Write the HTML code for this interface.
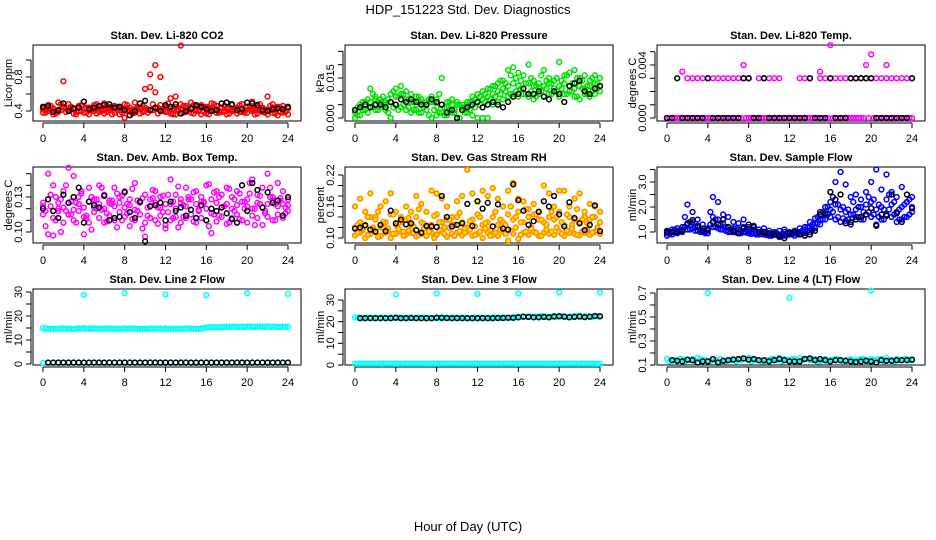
<!DOCTYPE html>
<html><head><meta charset="utf-8">
<style>
html,body{margin:0;padding:0;background:#fff;}
svg{display:block;font-family:"Liberation Sans",Arial,sans-serif;}
.t{font-size:11px;font-weight:bold;text-anchor:middle;}
.tk{font-size:11px;text-anchor:middle;}
</style></head>
<body>
<svg id="chart" width="936" height="540" viewBox="0 0 936 540" xmlns="http://www.w3.org/2000/svg">
<text x="468" y="14" font-size="13" text-anchor="middle">HDP_151223  Std. Dev. Diagnostics</text>
<text x="468" y="531" font-size="13" text-anchor="middle">Hour of Day (UTC)</text>
</svg>
<script>
const hours=[0,0.5,1,1.5,2,2.5,3,3.5,4,4.5,5,5.5,6,6.5,7,7.5,8,8.5,9,9.5,10,10.5,11,11.5,12,12.5,13,13.5,14,14.5,15,15.5,16,16.5,17,17.5,18,18.5,19,19.5,20,20.5,21,21.5,22,22.5,23,23.5,24];
const hoursQ=[0.25,0.75,1.25,1.75,2.25,2.75,3.25,3.75,4.25,4.75,5.25,5.75,6.25,6.75,7.25,7.75,8.25,8.75,9.25,9.75,10.25,10.75,11.25,11.75,12.25,12.75,13.25,13.75,14.25,14.75,15.25,15.75,16.25,16.75,17.25,17.75,18.25,18.75,19.25,19.75,20.25,20.75,21.25,21.75,22.25,22.75,23.25,23.75];
const xTicks=[0,4,8,12,16,20,24];

const co2A=[0.44,0.47,0.42,0.50,0.45,0.48,0.43,0.46,0.51,0.44,0.47,0.42,0.49,0.45,0.46,0.43,0.48,0.41,0.50,0.44,0.66,0.68,0.62,0.47,0.45,0.55,0.57,0.48,0.46,0.50,0.45,0.47,0.43,0.49,0.46,0.44,0.50,0.47,0.43,0.48,0.45,0.51,0.46,0.44,0.57,0.48,0.45,0.46,0.44];
const co2B=[0.38,0.40,0.36,0.39,0.75,0.41,0.37,0.40,0.38,0.36,0.40,0.39,0.37,0.41,0.38,0.36,0.32,0.40,0.38,0.37,0.40,0.41,0.94,0.80,0.39,0.37,0.36,1.17,0.39,0.38,0.40,0.36,0.37,0.41,0.38,0.39,0.36,0.40,0.37,0.39,0.38,0.40,0.37,0.39,0.36,0.38,0.35,0.38,0.36];
const co2C=[0.42,0.44,0.43,0.41,0.45,0.43,0.42,0.44,0.43,0.42,0.44,0.45,0.42,0.43,0.44,0.42,0.43,0.44,0.42,0.43,0.44,0.83,0.43,0.42,0.44,0.43,0.45,0.42,0.44,0.43,0.42,0.44,0.45,0.43,0.42,0.44,0.43,0.42,0.44,0.43,0.45,0.42,0.44,0.43,0.42,0.44,0.43,0.42,0.43];
const co2D=[0.41,0.46,0.40,0.48,0.43,0.45,0.39,0.47,0.44,0.42,0.48,0.40,0.46,0.43,0.45,0.41,0.47,0.39,0.44,0.46,0.42,0.48,0.44,0.41,0.49,0.43,0.40,0.46,0.42,0.47,0.41,0.45,0.43,0.48,0.40,0.46,0.44,0.42,0.47,0.41,0.45,0.43,0.48,0.40,0.46,0.42,0.44,0.39];
const co2E=[0.38,0.42,0.37,0.41,0.39,0.43,0.36,0.40,0.38,0.41,0.37,0.42,0.39,0.36,0.41,0.38,0.40,0.37,0.42,0.39,0.38,0.41,0.37,0.40,0.39,0.36,0.42,0.38,0.41,0.37,0.40,0.39,0.36,0.42,0.38,0.40,0.37,0.41,0.39,0.38,0.42,0.36,0.40,0.38,0.41,0.37,0.39,0.40];
const co2K=[0.45,0.46,0.39,0.41,0.49,0.40,0.43,0.44,0.51,0.42,0.44,0.46,0.47,0.48,0.44,0.45,0.41,0.35,0.40,0.49,0.52,0.41,0.44,0.40,0.47,0.45,0.48,0.37,0.40,0.43,0.47,0.45,0.42,0.40,0.41,0.49,0.50,0.48,0.41,0.42,0.50,0.49,0.47,0.41,0.40,0.42,0.43,0.42,0.45];

const presA=[0.003,0.005,0.006,0.011,0.008,0.007,0.006,0.009,0.011,0.012,0.010,0.009,0.008,0.007,0.006,0.008,0.007,0.015,0.006,0.007,0.006,0.005,0.006,0.008,0.009,0.010,0.011,0.012,0.013,0.014,0.018,0.019,0.017,0.016,0.020,0.014,0.013,0.018,0.015,0.014,0.021,0.016,0.017,0.018,0.015,0.016,0.014,0.016,0.015];
const presB=[0.002,0.004,0.005,0.006,0.007,0.006,0.005,0.006,0.008,0.009,0.007,0.006,0.005,0.006,0.005,0.006,0.004,0.005,0.004,0.005,0.005,0.004,0.005,0.006,0.006,0.007,0.008,0.009,0.010,0.011,0.012,0.013,0.012,0.011,0.013,0.012,0.011,0.012,0.013,0.011,0.012,0.013,0.012,0.011,0.012,0.011,0.012,0.013,0.012];
const presC=[0.000,0.001,0.003,0.004,0.003,0.004,0.003,0.000,0.005,0.004,0.003,0.002,0.003,0.002,0.003,0.000,0.001,0.002,0.001,0.002,0.000,0.003,0.002,0.001,0.000,0.000,0.000,0.005,0.006,0.007,0.008,0.009,0.008,0.009,0.008,0.007,0.009,0.008,0.009,0.010,0.008,0.009,0.010,0.008,0.007,0.009,0.008,0.009,0.010];
const presD=[0.004,0.006,0.007,0.009,0.006,0.008,0.007,0.010,0.008,0.009,0.007,0.006,0.008,0.005,0.007,0.006,0.009,0.004,0.006,0.003,0.005,0.004,0.006,0.007,0.008,0.009,0.011,0.012,0.014,0.013,0.016,0.015,0.014,0.013,0.015,0.012,0.016,0.014,0.013,0.015,0.014,0.016,0.013,0.015,0.014,0.012,0.015,0.013];
const presE=[0.001,0.003,0.002,0.004,0.003,0.005,0.002,0.004,0.003,0.005,0.004,0.003,0.002,0.004,0.001,0.003,0.002,0.001,0.003,0.002,0.000,0.002,0.003,0.004,0.005,0.006,0.007,0.008,0.009,0.010,0.009,0.010,0.011,0.009,0.010,0.008,0.010,0.011,0.009,0.010,0.011,0.009,0.010,0.008,0.011,0.009,0.010,0.011];
const presK=[0.003,0.004,0.005,0.004,0.005,0.005,0.004,0.006,0.005,0.007,0.006,0.007,0.006,0.005,0.005,0.007,0.006,0.005,0.002,0.003,0.000,0.003,0.004,0.005,0.006,0.004,0.005,0.006,0.005,0.004,0.006,0.008,0.009,0.011,0.009,0.009,0.010,0.008,0.007,0.010,0.009,0.006,0.012,0.013,0.014,0.010,0.009,0.011,0.012];

const tempA=[0,0,0,0,0.003,0.003,0.003,0.003,0.003,0.003,0.003,0.003,0.003,0.003,0.003,0.003,0.003,0,0.003,0.003,0.003,0.003,0.003,0,0,0,0.003,0.003,0.003,0,0.003,0.003,0.003,0.003,0.003,0.003,0.003,0.003,0.003,0.003,0.003,0.003,0.003,0.003,0.003,0.003,0.003,0.003,0.003];
const tempB=[0,0,0,0.0035,0,0,0,0,0,0,0,0,0,0,0,0.004,0,0,0,0,0,0,0,0,0,0,0,0,0,0,0.0035,0,0.0055,0,0,0,0,0,0,0.004,0.0048,0,0,0.004,0,0,0,0,0];
const tempZ=[0,0,0,0,0,0,0,0,0,0,0,0,0,0,0,0,0,0,0,0,0,0,0,0,0,0,0,0,0,0,0,0,0,0,0,0,0,0,0,0,0,0,0,0,0,0,0,0];
const tempK=[0,0,0.003,0,0,0,0,0,0.003,0,0,0,0,0,0,0.003,0.003,0,0,0.003,0,0,0,0,0,0,0,0,0.003,0,0,0,0.003,0,0,0,0.003,0.003,0.003,0.003,0.003,0,0,0,0,0,0,0,0.003];

const ambA=[0.125,0.150,0.140,0.118,0.135,0.125,0.148,0.130,0.121,0.138,0.128,0.140,0.132,0.125,0.138,0.130,0.135,0.128,0.142,0.125,0.132,0.128,0.135,0.130,0.124,0.145,0.132,0.128,0.138,0.128,0.135,0.130,0.140,0.128,0.135,0.132,0.138,0.130,0.135,0.140,0.128,0.145,0.132,0.138,0.150,0.130,0.142,0.135,0.128];
const ambB=[0.115,0.098,0.112,0.120,0.108,0.115,0.110,0.118,0.113,0.108,0.117,0.112,0.108,0.114,0.110,0.117,0.113,0.105,0.110,0.115,0.108,0.112,0.110,0.114,0.106,0.110,0.113,0.108,0.112,0.115,0.108,0.112,0.110,0.116,0.109,0.113,0.107,0.112,0.115,0.110,0.108,0.114,0.112,0.106,0.113,0.110,0.115,0.112,0.118];
const ambC=[0.122,0.128,0.097,0.125,0.121,0.155,0.119,0.124,0.098,0.126,0.121,0.124,0.120,0.127,0.122,0.125,0.121,0.123,0.119,0.126,0.096,0.122,0.125,0.121,0.103,0.124,0.120,0.125,0.122,0.119,0.124,0.126,0.120,0.099,0.125,0.121,0.124,0.120,0.123,0.126,0.122,0.120,0.125,0.121,0.124,0.127,0.122,0.124,0.123];
const ambD=[0.118,0.132,0.110,0.128,0.140,0.115,0.125,0.135,0.112,0.130,0.120,0.138,0.116,0.127,0.133,0.110,0.124,0.137,0.118,0.129,0.114,0.136,0.121,0.131,0.117,0.126,0.139,0.113,0.128,0.134,0.119,0.125,0.141,0.115,0.130,0.122,0.137,0.118,0.133,0.126,0.142,0.120,0.131,0.116,0.138,0.124,0.129,0.121];
const ambE=[0.105,0.122,0.130,0.100,0.118,0.126,0.108,0.133,0.114,0.102,0.128,0.119,0.109,0.124,0.104,0.131,0.116,0.111,0.127,0.103,0.121,0.129,0.107,0.117,0.132,0.112,0.104,0.123,0.130,0.109,0.118,0.126,0.105,0.134,0.114,0.122,0.108,0.128,0.111,0.120,0.133,0.106,0.124,0.118,0.130,0.110,0.127,0.116];
const ambK=[0.120,0.128,0.118,0.112,0.132,0.125,0.130,0.138,0.108,0.126,0.123,0.121,0.131,0.110,0.112,0.113,0.134,0.117,0.112,0.126,0.092,0.122,0.123,0.125,0.110,0.126,0.118,0.121,0.114,0.119,0.112,0.123,0.110,0.120,0.118,0.121,0.116,0.111,0.108,0.140,0.118,0.142,0.136,0.121,0.134,0.125,0.127,0.114,0.130];

const rhA=[0.160,0.175,0.150,0.185,0.140,0.160,0.170,0.185,0.150,0.140,0.160,0.150,0.180,0.165,0.150,0.190,0.185,0.175,0.160,0.140,0.170,0.180,0.230,0.185,0.170,0.190,0.180,0.195,0.175,0.160,0.190,0.205,0.175,0.170,0.155,0.165,0.150,0.200,0.185,0.160,0.190,0.190,0.160,0.175,0.185,0.150,0.165,0.160,0.150];
const rhB=[0.120,0.130,0.125,0.140,0.135,0.120,0.130,0.145,0.125,0.130,0.135,0.125,0.140,0.130,0.120,0.125,0.145,0.130,0.135,0.125,0.140,0.130,0.120,0.135,0.145,0.125,0.130,0.140,0.125,0.130,0.145,0.135,0.150,0.130,0.140,0.145,0.135,0.130,0.140,0.135,0.150,0.125,0.140,0.135,0.130,0.140,0.135,0.140,0.130];
const rhC=[0.105,0.110,0.100,0.108,0.112,0.104,0.110,0.100,0.108,0.112,0.106,0.110,0.103,0.108,0.104,0.110,0.106,0.112,0.102,0.108,0.110,0.105,0.112,0.104,0.108,0.100,0.110,0.106,0.104,0.112,0.095,0.108,0.098,0.110,0.106,0.112,0.104,0.110,0.108,0.106,0.112,0.104,0.110,0.108,0.105,0.110,0.106,0.112,0.108];
const rhD=[0.125,0.115,0.140,0.120,0.150,0.130,0.118,0.145,0.128,0.112,0.138,0.122,0.155,0.127,0.116,0.142,0.130,0.120,0.135,0.125,0.148,0.118,0.132,0.122,0.140,0.128,0.115,0.150,0.135,0.125,0.160,0.140,0.130,0.155,0.120,0.145,0.135,0.125,0.150,0.140,0.130,0.145,0.125,0.155,0.135,0.128,0.140,0.120];
const rhE=[0.110,0.118,0.106,0.115,0.102,0.120,0.112,0.108,0.117,0.104,0.114,0.110,0.106,0.118,0.112,0.100,0.115,0.108,0.119,0.104,0.113,0.110,0.116,0.106,0.112,0.118,0.104,0.110,0.116,0.108,0.114,0.120,0.106,0.112,0.118,0.110,0.104,0.116,0.112,0.120,0.108,0.114,0.118,0.106,0.112,0.116,0.110,0.114];
const rhK=[0.118,0.120,0.124,0.116,0.112,0.125,0.113,0.152,0.128,0.135,0.126,0.128,0.115,0.110,0.123,0.122,0.121,0.180,0.140,0.122,0.125,0.128,0.165,0.123,0.170,0.156,0.167,0.122,0.164,0.118,0.116,0.202,0.172,0.152,0.125,0.132,0.150,0.170,0.160,0.180,0.145,0.122,0.168,0.138,0.128,0.115,0.125,0.162,0.113];

const flowA=[1.05,1.10,1.15,1.20,2.10,1.80,1.50,1.30,1.15,2.40,2.20,1.70,1.60,1.40,1.35,1.50,1.20,1.25,1.10,1.15,1.05,1.00,1.05,1.10,1.00,1.05,1.15,1.20,1.40,1.55,1.80,2.00,2.20,3.00,3.40,2.90,2.40,2.50,2.30,2.60,3.00,3.50,2.70,3.30,2.60,2.40,2.80,2.20,2.40];
const flowB=[0.95,1.00,1.05,1.10,1.30,1.40,1.25,1.15,1.05,1.60,1.50,1.35,1.20,1.15,1.10,1.20,1.05,1.10,1.00,1.00,0.95,0.95,0.90,1.00,0.95,0.95,1.00,1.10,1.20,1.35,1.50,1.70,1.90,2.10,1.90,1.80,1.70,1.90,2.00,2.10,2.20,1.90,2.00,2.30,2.10,1.80,2.00,2.20,2.00];
const flowC=[0.85,0.90,0.95,1.00,1.10,1.15,1.05,1.00,0.95,1.20,1.15,1.10,1.00,1.00,0.95,1.00,0.95,0.95,0.90,0.90,0.85,0.90,0.80,0.85,0.90,0.85,0.90,0.95,1.00,1.15,1.30,1.50,1.60,1.50,1.40,1.45,1.30,1.60,1.50,1.70,1.60,1.30,1.50,1.70,1.60,1.40,1.50,1.60,1.80];
const flowD=[1.00,1.10,1.05,1.60,1.40,1.20,1.10,1.00,1.80,1.50,1.30,1.20,1.10,1.15,1.05,1.10,1.00,0.95,1.00,0.92,0.90,0.95,0.90,0.92,0.95,1.00,1.05,1.20,1.30,1.60,1.80,2.00,2.40,2.10,2.00,1.90,2.20,2.00,1.80,2.40,2.30,2.10,1.90,2.50,2.20,1.90,2.10,2.30];
const flowE=[0.92,0.98,1.02,1.20,1.10,1.05,1.00,0.95,1.30,1.20,1.10,1.05,1.00,0.98,0.95,0.98,0.92,0.90,0.92,0.88,0.85,0.88,0.85,0.88,0.90,0.92,0.95,1.05,1.10,1.35,1.50,1.70,1.80,1.60,1.55,1.50,1.70,1.60,1.50,1.80,1.70,1.60,1.50,1.90,1.70,1.50,1.60,1.70];
const flowK=[1.0,1.0,1.0,1.05,1.35,1.48,1.2,1.05,1.1,1.4,1.3,1.5,1.2,1.05,0.95,1.15,1.3,1.2,1.0,1.0,0.95,0.9,0.85,0.75,0.95,1.0,0.9,0.85,0.9,1.05,1.7,1.75,2.6,2.3,2.5,1.35,1.4,1.5,1.6,1.7,1.95,1.25,1.7,1.65,2.5,1.75,1.4,2.5,1.95];

const l2A=[15.0,14.8,14.7,14.8,14.9,14.8,14.7,14.9,15.0,14.8,14.9,14.8,14.8,14.9,14.8,14.7,14.9,14.9,14.8,14.7,14.8,14.9,14.8,14.8,14.9,14.8,14.7,14.8,14.9,14.8,14.7,14.8,15.2,15.3,15.3,15.4,15.5,15.5,15.4,15.6,15.6,15.5,15.6,15.5,15.7,15.5,15.4,15.6,15.5];
const l2Q=[14.6,14.7,14.6,14.8,14.7,14.6,14.7,14.8,14.6,14.7,14.6,14.7,14.8,14.6,14.7,14.6,14.7,14.8,14.6,14.7,14.6,14.7,14.8,14.6,14.7,14.6,14.7,14.6,14.8,14.7,14.6,14.9,15.3,15.4,15.3,15.5,15.4,15.6,15.5,15.4,15.6,15.5,15.7,15.4,15.5,15.6,15.4,15.5];
const l2Low=[0.5,0.5,0.5,0.5,0.5,0.5,0.5,0.5,0.5,0.5,0.5,0.5,0.5,0.5,0.5,0.5,0.5,0.5,0.5,0.5,0.5,0.5,0.5,0.5,0.5,0.5,0.5,0.5,0.5,0.5,0.5,0.5,0.5,0.5,0.5,0.5,0.5,0.5,0.5,0.5,0.5,0.5,0.5,0.5,0.5,0.5,0.5,0.5,0.5];
const l2K=[null,0.6,0.6,0.6,0.6,0.6,0.6,0.6,0.6,0.6,0.6,0.6,0.6,0.6,0.6,0.6,0.6,0.6,0.6,0.6,0.6,0.6,0.6,0.6,0.6,0.6,0.6,0.6,0.6,0.6,0.6,0.6,0.6,0.6,0.6,0.6,0.6,0.6,0.6,0.6,0.6,0.6,0.6,0.6,0.6,0.6,0.6,0.6,0.6];
const spikeHours=[4,8,12,16,20,24];
const l2Spikes=[28.8,29.5,29.0,28.7,29.5,29.2];

const l3A=[22.0,21.8,21.7,21.8,21.8,21.7,21.8,21.9,22.0,21.7,21.8,21.9,21.8,21.8,21.7,21.8,21.9,21.5,21.8,21.7,21.8,21.8,21.7,21.8,21.8,21.7,21.8,21.9,21.8,22.0,21.9,22.0,22.2,22.4,22.3,22.2,22.4,22.5,22.3,22.6,22.5,22.4,22.3,22.6,22.8,22.5,22.4,22.6,22.5];
const l3Q=[21.9,21.8,21.9,21.7,21.8,21.9,21.8,21.7,21.9,21.8,21.9,21.7,21.8,21.9,21.8,21.7,21.9,21.8,21.7,21.9,21.8,21.9,21.7,21.8,21.9,21.8,21.7,21.9,21.8,21.9,21.8,22.0,22.3,22.2,22.4,22.3,22.5,22.2,22.4,22.3,22.6,22.2,22.4,22.5,22.3,22.4,22.2,22.5];
const l3Low=[0.6,0.6,0.6,0.6,0.6,0.6,0.6,0.6,0.6,0.6,0.6,0.6,0.6,0.6,0.6,0.6,0.6,0.6,0.6,0.6,0.6,0.6,0.6,0.6,0.6,0.6,0.6,0.6,0.6,0.6,0.6,0.6,0.6,0.6,0.6,0.6,0.6,0.6,0.6,0.6,0.6,0.6,0.6,0.6,0.6,0.6,0.6,0.6,0.6];
const l3LowQ=[0.6,0.6,0.6,0.6,0.6,0.6,0.6,0.6,0.6,0.6,0.6,0.6,0.6,0.6,0.6,0.6,0.6,0.6,0.6,0.6,0.6,0.6,0.6,0.6,0.6,0.6,0.6,0.6,0.6,0.6,0.6,0.6,0.6,0.6,0.6,0.6,0.6,0.6,0.6,0.6,0.6,0.6,0.6,0.6,0.6,0.6,0.6,0.6];
const l3K=[null,21.6,21.6,21.6,21.6,21.6,21.6,21.6,21.8,21.6,21.6,21.7,21.6,21.6,21.6,21.6,21.8,21.8,21.7,21.6,21.6,21.6,21.6,21.6,21.6,21.6,21.6,21.6,21.7,21.7,21.8,21.8,22.0,22.3,22.2,22.0,22.0,22.2,22.0,22.4,22.5,22.3,22.0,22.2,22.4,22.1,22.3,22.6,22.5];
const l3Spikes=[32.5,33.0,32.8,33.0,33.5,33.5];

const l4A=[0.15,0.14,0.13,0.15,0.14,0.15,0.16,0.14,0.13,0.15,0.13,0.14,0.14,0.15,0.14,0.15,0.16,0.14,0.14,0.13,0.14,0.15,0.16,0.15,0.14,0.15,0.16,0.15,0.14,0.15,0.13,0.15,0.14,0.15,0.14,0.14,0.15,0.14,0.15,0.14,0.15,0.14,0.15,0.16,0.14,0.15,0.14,0.15,0.14];
const l4Q=[0.13,0.14,0.15,0.13,0.14,0.13,0.15,0.14,0.13,0.14,0.15,0.13,0.14,0.13,0.14,0.15,0.13,0.14,0.13,0.14,0.15,0.14,0.13,0.14,0.15,0.13,0.14,0.15,0.14,0.13,0.14,0.13,0.14,0.15,0.13,0.14,0.13,0.14,0.15,0.13,0.14,0.15,0.13,0.14,0.13,0.14,0.15,0.14];
const l4K=[null,0.14,0.135,0.13,0.145,0.14,0.12,0.13,0.13,0.15,0.12,0.135,0.14,0.145,0.15,0.155,0.145,0.15,0.14,0.14,0.13,0.14,0.15,0.14,0.13,0.13,0.13,0.15,0.155,0.14,0.15,0.14,0.13,0.14,0.14,0.135,0.13,0.125,0.13,0.135,0.13,0.12,0.14,0.135,0.135,0.14,0.14,0.14,0.145];
const l4Spikes=[0.70,null,0.66,null,0.72,null];

const NS='http://www.w3.org/2000/svg';
const svg=document.getElementById('chart');
function mk(tag,attrs,parent){const e=document.createElementNS(NS,tag);for(const k in attrs)e.setAttribute(k,attrs[k]);(parent||svg).appendChild(e);return e;}

function panel(p){
  const left=33+312*p.col, right=left+268, top=45+122*p.row, bottom=top+76;
  const g=mk('g',{});
  
  
  const xScale=h=>left+10+h*(245/24);
  const yScale=v=>p.y0px+(v-p.y0)*(p.y1px-p.y0px)/(p.y1-p.y0);
  const title=mk('text',{x:(left+right)/2,y:top-6,class:'t'},g);title.textContent=p.title;
  
  
  const box=mk('rect',{x:left,y:top,width:right-left,height:bottom-top,fill:'none',stroke:'#000','stroke-width':1},g);
  
  
  const xa=mk('g',{},g);
  
  
  mk('line',{x1:xScale(0),x2:xScale(24),y1:bottom+2,y2:bottom+2,stroke:'#000'},xa);
  xTicks.forEach(t=>{
    mk('line',{x1:xScale(t),x2:xScale(t),y1:bottom+2,y2:bottom+7,stroke:'#000'},xa);
    const tx=mk('text',{x:xScale(t),y:bottom+21,class:'tk'},xa);tx.textContent=t;
  });
  const ya=mk('g',{},g);
  
  
  const ax=left-2;
  mk('line',{x1:ax,x2:ax,y1:yScale(p.ticks[0]),y2:yScale(p.ticks[p.ticks.length-1]),stroke:'#000'},ya);
  p.ticks.forEach(t=>{
    const y=yScale(t);
    mk('line',{x1:ax-5,x2:ax,y1:y,y2:y,stroke:'#000'},ya);
  });
  p.labels.forEach((lab,i)=>{
    const y=yScale(p.labelVals[i]);
    const tx=mk('text',{x:left-11,y:y,class:'tk',transform:`rotate(-90 ${left-11} ${y})`},ya);tx.textContent=lab;
  });
  const yt=mk('text',{x:left-21,y:(top+bottom)/2,class:'tk',transform:`rotate(-90 ${left-21} ${(top+bottom)/2})`},g);
  yt.textContent=p.ylab;
  
  
  p.series.forEach(s=>{
    const sg=mk('g',{},g);
    
    
    s.vals.forEach((v,i)=>{
      if(v===null||v===undefined)return;
      const c=mk('circle',{cx:xScale(s.x[i]),cy:yScale(v),r:2.4,fill:s.fill||'none',stroke:s.color,'stroke-width':1.5},sg);
      
      
    });
  });
}

const RED='#ff0000',GRN='#00e000',MAG='#ff00ff',BLU='#0000ff',CYN='#00ffff',BLK='#000000',ORG='#ff8c00';
panel({name:'co2',col:0,row:0,title:'Stan. Dev. Li-820 CO2',ylab:'Licor ppm',y0:0.4,y0px:111,y1:0.8,y1px:77,ticks:[0.4,0.6,0.8,1.0],labels:['0.4','0.8'],labelVals:[0.4,0.8],
  series:[{name:'series-a',x:hours,vals:co2A,color:RED},{name:'series-b',x:hours,vals:co2B,color:RED},{name:'series-c',x:hours,vals:co2C,color:RED},{name:'series-d',x:hoursQ,vals:co2D,color:RED},{name:'series-e',x:hoursQ,vals:co2E,color:RED},{name:'hourly-black',x:hours,vals:co2K,color:BLK}]});
panel({name:'pressure',col:1,row:0,title:'Stan. Dev. Li-820 Pressure',ylab:'kPa',y0:0,y0px:118,y1:0.015,y1px:78,ticks:[0,0.005,0.01,0.015,0.02,0.025],labels:['0.000','0.015'],labelVals:[0,0.015],
  series:[{name:'series-a',x:hours,vals:presA,color:GRN},{name:'series-b',x:hours,vals:presB,color:GRN},{name:'series-c',x:hours,vals:presC,color:GRN},{name:'series-d',x:hoursQ,vals:presD,color:GRN},{name:'series-e',x:hoursQ,vals:presE,color:GRN},{name:'hourly-black',x:hours,vals:presK,color:BLK}]});
panel({name:'li820-temp',col:2,row:0,title:'Stan. Dev. Li-820 Temp.',ylab:'degrees C',y0:0,y0px:118,y1:0.004,y1px:65,ticks:[0,0.001,0.002,0.003,0.004,0.005],labels:['0.000','0.004'],labelVals:[0,0.004],
  series:[{name:'series-a',x:hours,vals:tempA,color:MAG},{name:'series-b',x:hours,vals:tempB,color:MAG},{name:'series-zero',x:hoursQ,vals:tempZ,color:MAG},{name:'hourly-black',x:hours,vals:tempK,color:BLK}]});
panel({name:'amb-box-temp',col:0,row:1,title:'Stan. Dev. Amb. Box Temp.',ylab:'degrees C',y0:0.10,y0px:232,y1:0.13,y1px:197,ticks:[0.10,0.11,0.12,0.13,0.14,0.15],labels:['0.10','0.13'],labelVals:[0.10,0.13],
  series:[{name:'series-a',x:hours,vals:ambA,color:MAG},{name:'series-b',x:hours,vals:ambB,color:MAG},{name:'series-c',x:hours,vals:ambC,color:MAG},{name:'series-d',x:hoursQ,vals:ambD,color:MAG},{name:'series-e',x:hoursQ,vals:ambE,color:MAG},{name:'hourly-black',x:hours,vals:ambK,color:BLK}]});
panel({name:'gas-stream-rh',col:1,row:1,title:'Stan. Dev. Gas Stream RH',ylab:'percent',y0:0.10,y0px:238,y1:0.22,y1px:175,ticks:[0.10,0.12,0.14,0.16,0.18,0.20,0.22],labels:['0.10','0.16','0.22'],labelVals:[0.10,0.16,0.22],
  series:[{name:'series-a',x:hours,vals:rhA,color:ORG,fill:'#ffe600'},{name:'series-b',x:hours,vals:rhB,color:ORG,fill:'#ffe600'},{name:'series-c',x:hours,vals:rhC,color:ORG,fill:'#ffe600'},{name:'series-d',x:hoursQ,vals:rhD,color:ORG,fill:'#ffe600'},{name:'series-e',x:hoursQ,vals:rhE,color:ORG,fill:'#ffe600'},{name:'hourly-black',x:hours,vals:rhK,color:BLK}]});
panel({name:'sample-flow',col:2,row:1,title:'Stan. Dev. Sample Flow',ylab:'ml/min',y0:1.0,y0px:232,y1:3.0,y1px:182,ticks:[1.0,1.5,2.0,2.5,3.0,3.5],labels:['1.0','2.0','3.0'],labelVals:[1,2,3],
  series:[{name:'series-a',x:hours,vals:flowA,color:BLU},{name:'series-b',x:hours,vals:flowB,color:BLU},{name:'series-c',x:hours,vals:flowC,color:BLU},{name:'series-d',x:hoursQ,vals:flowD,color:BLU},{name:'series-e',x:hoursQ,vals:flowE,color:BLU},{name:'hourly-black',x:hours,vals:flowK,color:BLK}]});
panel({name:'line2-flow',col:0,row:2,title:'Stan. Dev. Line 2 Flow',ylab:'ml/min',y0:0,y0px:364,y1:30,y1px:292,ticks:[0,5,10,15,20,25,30],labels:['0','10','20','30'],labelVals:[0,10,20,30],
  series:[{name:'series-a',x:hours,vals:l2A,color:CYN},{name:'series-q',x:hoursQ,vals:l2Q,color:CYN},{name:'series-low',x:hours,vals:l2Low,color:CYN},{name:'spikes',x:spikeHours,vals:l2Spikes,color:CYN},{name:'hourly-black',x:hours,vals:l2K,color:BLK}]});
panel({name:'line3-flow',col:1,row:2,title:'Stan. Dev. Line 3 Flow',ylab:'ml/min',y0:0,y0px:365,y1:30,y1px:300,ticks:[0,5,10,15,20,25,30],labels:['0','10','20','30'],labelVals:[0,10,20,30],
  series:[{name:'series-a',x:hours,vals:l3A,color:CYN},{name:'series-q',x:hoursQ,vals:l3Q,color:CYN},{name:'series-low',x:hours,vals:l3Low,color:CYN},{name:'series-low-q',x:hoursQ,vals:l3LowQ,color:CYN},{name:'spikes',x:spikeHours,vals:l3Spikes,color:CYN},{name:'hourly-black',x:hours,vals:l3K,color:BLK}]});
panel({name:'line4-flow',col:2,row:2,title:'Stan. Dev. Line 4 (LT) Flow',ylab:'ml/min',y0:0.1,y0px:365,y1:0.7,y1px:293,ticks:[0.1,0.2,0.3,0.4,0.5,0.6,0.7],labels:['0.1','0.3','0.5','0.7'],labelVals:[0.1,0.3,0.5,0.7],
  series:[{name:'series-a',x:hours,vals:l4A,color:CYN},{name:'series-q',x:hoursQ,vals:l4Q,color:CYN},{name:'spikes',x:spikeHours,vals:l4Spikes,color:CYN},{name:'hourly-black',x:hours,vals:l4K,color:BLK}]});
</script>
</body></html>
